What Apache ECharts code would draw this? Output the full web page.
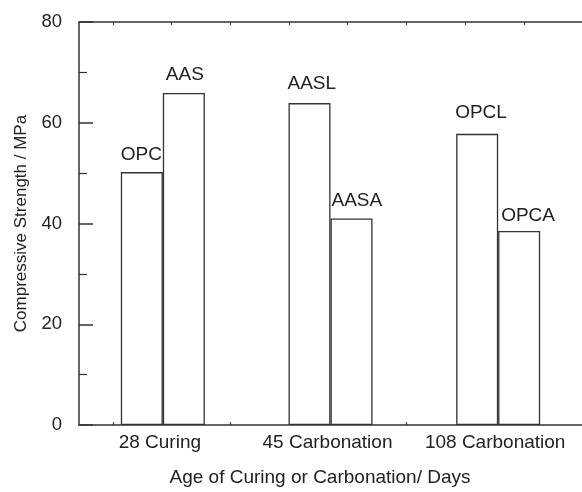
<!DOCTYPE html>
<html>
<head>
<meta charset="utf-8">
<script src="https://cdn.jsdelivr.net/npm/echarts@6/dist/echarts.min.js"></script>
<style>
html,body{margin:0;padding:0;background:#fff;}
#chart{width:582px;height:492px;}
</style>
</head>
<body>
<div id="chart"></div>
<script>
const categories = ['28 Curing', '45 Carbonation', '108 Carbonation'];
const firstNames = ['OPC', 'AASL', 'OPCL'];
const firstValues = [50.2, 63.9, 57.8];
const secondNames = ['AAS', 'AASA', 'OPCA'];
const secondValues = [65.9, 41.0, 38.5];
const yTickLabels = [0, 20, 40, 60, 80];

// label nudges (style, not data): [dx, distance]
const firstNudge = [[0, 8], [-1, 10], [-1, 12]];
const secondNudge = [[3, 9], [1, 8], [3, 6]];

const FONT = 'Liberation Sans, Arial, Helvetica, sans-serif';
const TXT = '#222';
const LINE = '#333';

function buildData(values, names, nudges) {
  return values.map((v, i) => ({
    value: v,
    label: {
      formatter: names[i],
      offset: [-21 + nudges[i][0], 0],
      distance: nudges[i][1]
    }
  }));
}

const chart = echarts.init(document.getElementById('chart'), null, {renderer: 'canvas'});
const minorX = [34, 93, 152, 211, 269, 329, 388, 447];

chart.setOption({
  animation: false,
  backgroundColor: '#fff',
  grid: {left: 79, top: 22, width: 505, height: 404, containLabel: false},
  xAxis: [
    {
      type: 'category',
      data: categories,
      position: 'bottom',
      axisLine: {show: true, lineStyle: {color: LINE, width: 1.5}},
      axisTick: {show: false},
      axisLabel: {interval: 0, hideOverlap: false, fontSize: 19, color: TXT, fontFamily: FONT, margin: 8, padding: [0, 6, 0, 0]},
      splitLine: {show: false},
      name: 'Age of Curing or Carbonation/ Days',
      nameLocation: 'middle',
      nameGap: 43,
      nameTextStyle: {fontSize: 19, color: TXT, fontFamily: FONT, padding: [0, 21, 0, 0]}
    },
    {
      type: 'value', min: 0, max: 505, position: 'bottom', gridIndex: 0,
      axisLine: {show: false},
      axisTick: {show: true, inside: true, length: 3, customValues: minorX, lineStyle: {color: LINE, width: 1}},
      axisLabel: {show: false},
      splitLine: {show: false}
    },
    {
      type: 'value', min: 0, max: 505, position: 'top', gridIndex: 0,
      axisLine: {show: true, onZero: false, lineStyle: {color: LINE, width: 1.5}},
      axisTick: {show: true, inside: true, length: 3, customValues: minorX, lineStyle: {color: LINE, width: 1}},
      axisLabel: {show: false},
      splitLine: {show: false}
    }
  ],
  yAxis: {
    type: 'value',
    min: yTickLabels[0],
    max: yTickLabels[yTickLabels.length - 1],
    interval: 20,
    axisLine: {show: true, lineStyle: {color: LINE, width: 1.5}},
    axisTick: {show: true, inside: true, length: 14, lineStyle: {color: LINE, width: 1.5}},
    minorTick: {show: true, splitNumber: 2, length: 8, lineStyle: {color: LINE, width: 1.2}},
    axisLabel: {fontSize: 18.5, color: TXT, fontFamily: FONT, margin: 17},
    splitLine: {show: false},
    minorSplitLine: {show: false},
    name: 'Compressive Strength / MPa',
    nameLocation: 'middle',
    nameGap: 49,
    nameTextStyle: {fontSize: 17, color: TXT, fontFamily: FONT}
  },
  series: [
    {
      type: 'bar',
      xAxisIndex: 0,
      data: buildData(firstValues, firstNames, firstNudge),
      barWidth: 42,
      barGap: '0%',
      itemStyle: {color: '#fff', borderColor: LINE, borderWidth: 1.3},
      label: {show: true, position: 'top', align: 'left', fontSize: 19, color: TXT, fontFamily: FONT}
    },
    {
      type: 'bar',
      xAxisIndex: 0,
      data: buildData(secondValues, secondNames, secondNudge),
      barWidth: 42,
      barGap: '0%',
      itemStyle: {color: '#fff', borderColor: LINE, borderWidth: 1.3},
      label: {show: true, position: 'top', align: 'left', fontSize: 19, color: TXT, fontFamily: FONT}
    }
  ]
});
</script>
</body>
</html>
